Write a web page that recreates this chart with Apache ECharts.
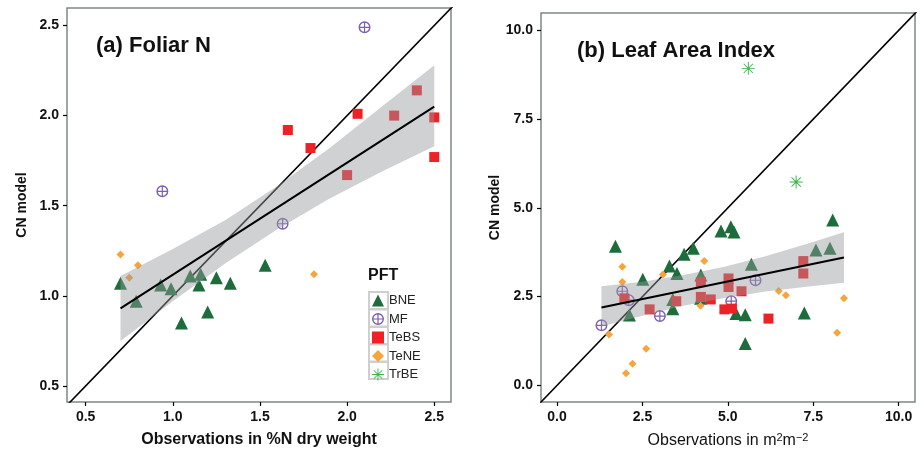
<!DOCTYPE html>
<html>
<head>
<meta charset="utf-8">
<script src="https://cdn.jsdelivr.net/npm/echarts@6/dist/echarts.min.js"></script>
<style>
  html, body { margin: 0; padding: 0; background: #fff; }
  #chart { width: 920px; height: 450px; }
</style>
</head>
<body>
<div id="chart"></div>
<script>
// ---- panel (a) Foliar N : [observed, model]
var bneA = [[0.70, 1.07], [0.79, 0.97], [0.93, 1.06], [0.99, 1.04], [1.10, 1.11], [1.16, 1.12],
  [1.15, 1.06], [1.25, 1.10], [1.33, 1.07], [1.05, 0.85], [1.20, 0.91], [1.53, 1.17]];
var mfA = [[2.10, 2.49], [0.94, 1.58], [1.63, 1.40]];
var tebsA = [[1.66, 1.92], [1.79, 1.82], [2.06, 2.01], [2.27, 2.00], [2.40, 2.14], [2.50, 1.99],
  [2.50, 1.77], [2.00, 1.67]];
var teneA = [[0.70, 1.23], [0.80, 1.17], [0.75, 1.10], [1.81, 1.12]];
var fitA = [[0.70, 0.93], [2.50, 2.05]];
var bandXA = [0.7, 1.0, 1.3, 1.6, 1.9, 2.2, 2.5];
var bandLoA = [0.75, 0.97, 1.18, 1.37, 1.54, 1.69, 1.83];
var bandHiA = [1.11, 1.26, 1.42, 1.61, 1.82, 2.05, 2.28];
var xTicksA = [0.5, 1.0, 1.5, 2.0, 2.5];
var yTicksA = [0.5, 1.0, 1.5, 2.0, 2.5];

// ---- panel (b) Leaf Area Index
var bneB = [[8.07, 4.66], [1.71, 3.92], [4.80, 4.35], [5.09, 4.47], [5.18, 4.32], [3.99, 3.86],
  [3.72, 3.69], [3.29, 3.36], [3.51, 3.15], [2.51, 2.99], [4.21, 3.11], [4.20, 2.45], [3.39, 2.42],
  [3.39, 2.16], [2.12, 1.98], [5.69, 3.41], [7.58, 3.81], [7.99, 3.86], [5.24, 2.02], [5.51, 1.99],
  [7.24, 2.04], [5.51, 1.18]];
var mfB = [[1.30, 1.69], [1.91, 2.65], [2.10, 2.40], [3.01, 1.95], [5.10, 2.37], [5.81, 2.96]];
var tebsB = [[1.97, 2.45], [2.71, 2.14], [3.49, 2.37], [4.21, 2.91], [4.21, 2.49], [4.50, 2.42],
  [4.90, 2.14], [5.02, 3.01], [5.02, 2.77], [5.12, 2.16], [5.40, 2.65], [6.19, 1.88], [7.21, 3.50],
  [7.21, 3.15]];
var teneB = [[1.91, 3.34], [1.91, 2.91], [3.10, 3.12], [4.31, 3.50], [4.20, 2.24], [1.52, 1.43],
  [2.61, 1.03], [2.21, 0.61], [2.02, 0.34], [6.49, 2.66], [6.70, 2.54], [8.40, 2.45], [8.20, 1.48]];
var trbeB = [[5.60, 8.93], [7.00, 5.73]];
var fitB = [[1.30, 2.19], [8.40, 3.60]];
var bandXB = [1.3, 2.5, 3.7, 4.9, 6.1, 7.3, 8.4];
var bandLoB = [1.66, 1.96, 2.24, 2.46, 2.64, 2.78, 2.89];
var bandHiB = [2.79, 2.92, 3.11, 3.34, 3.64, 3.98, 4.31];
var xTicksB = [0, 2.5, 5, 7.5, 10];
var yTicksB = [0, 2.5, 5, 7.5, 10];

var pftNames = ["BNE", "MF", "TeBS", "TeNE", "TrBE"];

var FONT = "Liberation Sans, Arial, sans-serif";
var colors = { BNE: "#1c6d3b", MF: "#7b60b6", TeBS: "#ee2127", TeNE: "#f8a43a", TrBE: "#3ab54a" };
var mfIcon = "path://M1,12 A11,11 0 1,1 23,12 A11,11 0 1,1 1,12 Z M3.6,12 A8.4,8.4 0 1,0 20.4,12 A8.4,8.4 0 1,0 3.6,12 Z " +
  "M10.9,3 L13.1,3 L13.1,21 L10.9,21 Z M3,10.9 L21,10.9 L21,13.1 L3,13.1 Z";
var starIcon = "path://M11.2,1 L12.8,1 L12.8,23 L11.2,23 Z M1,11.2 L23,11.2 L23,12.8 L1,12.8 Z " +
  "M4.79,3.65 L20.35,19.21 L19.21,20.35 L3.65,4.79 Z M19.21,3.65 L20.35,4.79 L4.79,20.35 L3.65,19.21 Z";
var symbols = { BNE: "triangle", MF: mfIcon, TeBS: "rect", TeNE: "diamond", TrBE: starIcon };
var sizes = { BNE: 13, MF: 12, TeBS: 10, TeNE: 8, TrBE: 13 };

var chart = echarts.init(document.getElementById("chart"));

function pts(name, data, idx) {
  return {
    name: name, type: "scatter", xAxisIndex: idx, yAxisIndex: idx, data: data,
    symbol: symbols[name], symbolSize: sizes[name], z: 2,
    itemStyle: { color: colors[name], opacity: 1 }
  };
}

function band(xs, lo, hi, idx) {
  return {
    type: "custom", xAxisIndex: idx, yAxisIndex: idx, z: 3, silent: true,
    data: xs.map(function (x, i) { return [x, lo[i], hi[i]]; }),
    encode: { x: 0, y: [1, 2] },
    renderItem: function (params, api) {
      if (params.dataIndex !== 0) return null;
      var p = [];
      for (var i = 0; i < xs.length; i++) p.push(api.coord([xs[i], hi[i]]));
      for (var j = xs.length - 1; j >= 0; j--) p.push(api.coord([xs[j], lo[j]]));
      return { type: "polygon", shape: { points: p }, style: { fill: "rgba(150,152,155,0.45)" } };
    }
  };
}

function fitLine(data, idx) {
  return {
    type: "line", xAxisIndex: idx, yAxisIndex: idx, data: data, z: 4, silent: true,
    symbol: "none", lineStyle: { color: "#000", width: 2 }
  };
}

function oneToOne(lo, hi, idx) {
  return {
    type: "line", xAxisIndex: idx, yAxisIndex: idx, data: [[lo, lo], [hi, hi]], z: 2, silent: true,
    clip: true, symbol: "none", lineStyle: { color: "#000", width: 1.6 }
  };
}

function tickLabel(ticks) {
  return {
    customValues: ticks, margin: 8, color: "#111", fontSize: 14, fontWeight: "bold", fontFamily: FONT,
    formatter: function (v) { return v.toFixed(1); }
  };
}

function xAx(idx, min, max, ticks, name, nameStyle) {
  return {
    gridIndex: idx, type: "value", min: min, max: max,
    axisLine: { show: false, onZero: false }, splitLine: { show: false },
    axisTick: { show: true, customValues: ticks, length: 4, lineStyle: { color: "#000", width: 1.2 } },
    axisLabel: tickLabel(ticks),
    name: name, nameLocation: "middle", nameGap: 30, nameTextStyle: nameStyle
  };
}

function yAx(idx, min, max, ticks, gap) {
  return {
    gridIndex: idx, type: "value", min: min, max: max,
    axisLine: { show: false, onZero: false }, splitLine: { show: false },
    axisTick: { show: true, customValues: ticks, length: 4, lineStyle: { color: "#000", width: 1.2 } },
    axisLabel: tickLabel(ticks),
    name: "CN model", nameLocation: "middle", nameGap: gap,
    nameTextStyle: { color: "#111", fontSize: 14, fontWeight: "bold", fontFamily: FONT }
  };
}

var legendFrames = pftNames.map(function (n, i) {
  return {
    type: "rect", left: 368, top: 291 + i * 17.5, silent: true,
    shape: { width: 19, height: 17 },
    style: { fill: "#fff", stroke: "#cfcfcf", lineWidth: 2 }
  };
});

var option = {
  backgroundColor: "#fff",
  animation: false,
  title: [
    { text: "(a) Foliar N", left: 96, top: 35, padding: 0,
      textStyle: { fontSize: 22, fontWeight: "bold", color: "#111", fontFamily: FONT } },
    { text: "(b) Leaf Area Index", left: 577, top: 40, padding: 0,
      textStyle: { fontSize: 22, fontWeight: "bold", color: "#111", fontFamily: FONT } },
    { text: "PFT", left: 368, top: 268, padding: 0,
      textStyle: { fontSize: 16, fontWeight: "bold", color: "#111", fontFamily: FONT } }
  ],
  legend: {
    orient: "vertical", left: 372, top: 294, itemWidth: 12, itemHeight: 12, itemGap: 5.5,
    padding: 0, textStyle: { fontSize: 13, color: "#222", fontFamily: FONT },
    data: pftNames.map(function (n) { return { name: n, icon: symbols[n] }; })
  },
  graphic: legendFrames,
  grid: [
    { left: 67, top: 8, width: 384, height: 394, show: true, borderColor: "#7f8585", borderWidth: 1.5,
      outerBoundsMode: "none" },
    { left: 541, top: 13, width: 374, height: 389, show: true, borderColor: "#7f8585", borderWidth: 1.5,
      outerBoundsMode: "none" }
  ],
  xAxis: [
    xAx(0, 0.393, 2.596, xTicksA, "Observations in %N dry weight",
      { color: "#111", fontSize: 16, fontWeight: "bold", fontFamily: FONT }),
    xAx(1, -0.47, 10.48, xTicksB, "{n|Observations in m}{s|2}{n|m}{s|\u22122}",
      { color: "#111", fontSize: 16, fontFamily: FONT,
        rich: { n: { fontSize: 16, color: "#111", fontFamily: FONT },
                s: { fontSize: 11, color: "#111", fontFamily: FONT, verticalAlign: "top", padding: [0, 0, 6, 0] } } })
  ],
  yAxis: [
    yAx(0, 0.411, 2.597, yTicksA, 38),
    yAx(1, -0.47, 10.49, yTicksB, 21)
  ],
  series: [
    oneToOne(0.3, 2.7, 0),
    pts("BNE", bneA, 0), pts("MF", mfA, 0), pts("TeBS", tebsA, 0), pts("TeNE", teneA, 0),
    band(bandXA, bandLoA, bandHiA, 0),
    fitLine(fitA, 0),
    oneToOne(-1, 11, 1),
    pts("BNE", bneB, 1), pts("MF", mfB, 1), pts("TeBS", tebsB, 1), pts("TeNE", teneB, 1), pts("TrBE", trbeB, 1),
    band(bandXB, bandLoB, bandHiB, 1),
    fitLine(fitB, 1)
  ]
};

chart.setOption(option);
</script>
</body>
</html>
